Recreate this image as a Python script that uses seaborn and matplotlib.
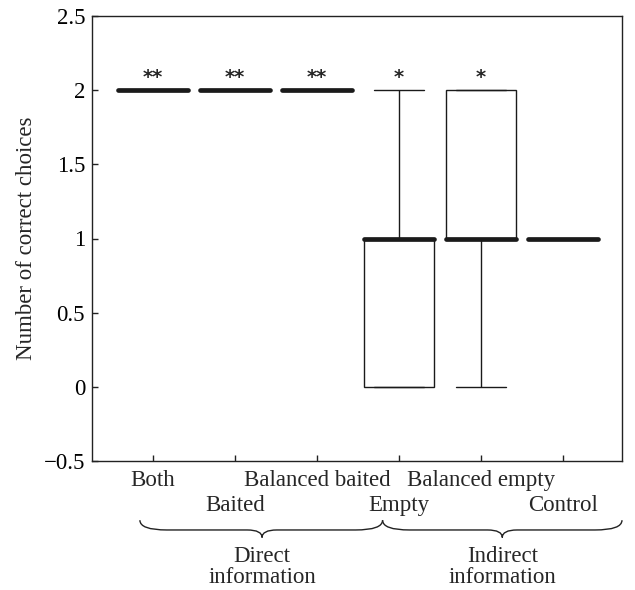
import numpy as np
import pandas as pd
import matplotlib
matplotlib.use("Agg")
import matplotlib.pyplot as plt
import seaborn as sns
from matplotlib.path import Path
from matplotlib.patches import PathPatch
from matplotlib.transforms import blended_transform_factory, ScaledTranslation

# condiciones y numero de elecciones correctas por sujeto
condiciones = ['Both', 'Baited', 'Balanced baited', 'Empty', 'Balanced empty', 'Control']
both = [2, 2, 2, 2, 2, 2, 2, 2, 2]
baited = [2, 2, 2, 2, 2, 2, 2, 2, 2]
balanced_baited = [2, 2, 2, 2, 2, 2, 2, 2, 2]
empty = [0, 0, 0, 1, 1, 1, 1, 1, 2]
balanced_empty = [0, 1, 1, 1, 1, 2, 2, 2, 2]
control = [1, 1, 1, 1, 1, 1, 1, 1, 1]
significancia = ['**', '**', '**', '*', '*', '']
grupos = ['Direct\ninformation', 'Indirect\ninformation']

valores = [both, baited, balanced_baited, empty, balanced_empty, control]
df = pd.DataFrame({
    'condicion': np.repeat(condiciones, [len(v) for v in valores]),
    'correctas': np.concatenate(valores),
})

sns.set_style("ticks")
plt.rcParams['font.family'] = ['Liberation Serif', 'DejaVu Serif']
fs = 16.5

fig = plt.figure(figsize=(6.35, 5.9), dpi=100)
ax = fig.add_axes([92 / 635, 1 - 461 / 590, 530 / 635, 445 / 590])

sns.boxplot(data=df, x='condicion', y='correctas', order=condiciones, ax=ax,
            color='white', linecolor='#1a1a1a', linewidth=1.0, width=0.86,
            whis=1.5, showfliers=False, capwidths=0.6,
            medianprops=dict(linewidth=3.4, solid_capstyle='round', color='#1a1a1a'))

for spine in ax.spines.values():
    spine.set_visible(True)
    spine.set_linewidth(1.0)
    spine.set_color('#222222')

ax.set_xlim(-0.744, 5.72)
ax.set_ylim(-0.5, 2.5)
yt = [-0.5, 0, 0.5, 1, 1.5, 2, 2.5]
ax.set_yticks(yt)
ax.set_yticklabels(['\u22120.5', '0', '0.5', '1', '1.5', '2', '2.5'])
ax.set_xticks(range(len(condiciones)))
ax.set_xticklabels([])
ax.tick_params(axis='both', direction='in', length=4.5, width=1.0, labelsize=fs,
               colors='#222222', labelcolor='black')
ax.tick_params(axis='y', pad=5)
ax.set_xlabel('')
ax.set_ylabel('Number of correct choices', fontsize=fs, labelpad=5)

# etiquetas de condicion escalonadas
tr = blended_transform_factory(ax.transData, ax.transAxes)
for i, c in enumerate(condiciones):
    dy = -6.8 if i % 2 == 0 else -24.8
    ax.text(i, 0, c, ha='center', va='top', fontsize=fs,
            transform=tr + ScaledTranslation(0, dy / 72, fig.dpi_scale_trans))

for i, s in enumerate(significancia):
    if s:
        ax.text(i, 2.05, s, ha='center', va='baseline', fontsize=14,
                fontweight='bold', family=['DejaVu Sans'])

# llaves de agrupacion
y_top, y_mid, y_tip = -0.133, -0.155, -0.172


def llave(x0, xt, x1, r0=0.33, rt=0.18):
    verts = [(x0, y_top), (x0, y_mid), (x0 + r0, y_mid),
             (xt - rt, y_mid), (xt, y_mid), (xt, y_tip),
             (xt, y_mid), (xt + rt, y_mid),
             (x1 - r0, y_mid), (x1, y_mid), (x1, y_top)]
    codes = [Path.MOVETO, Path.CURVE3, Path.CURVE3,
             Path.LINETO, Path.CURVE3, Path.CURVE3,
             Path.CURVE3, Path.CURVE3,
             Path.LINETO, Path.CURVE3, Path.CURVE3]
    p = PathPatch(Path(verts, codes), transform=tr, fill=False,
                  lw=1.0, color='#222222', clip_on=False)
    ax.add_patch(p)


llave(-0.16, 1.33, 2.80)
llave(2.80, 4.26, 5.72)
ax.text(1.33, -0.19, grupos[0], transform=tr, ha='center', va='top',
        fontsize=fs, linespacing=1.0)
ax.text(4.26, -0.19, grupos[1], transform=tr, ha='center', va='top',
        fontsize=fs, linespacing=1.0)

fig.savefig('out.png', dpi=100)
